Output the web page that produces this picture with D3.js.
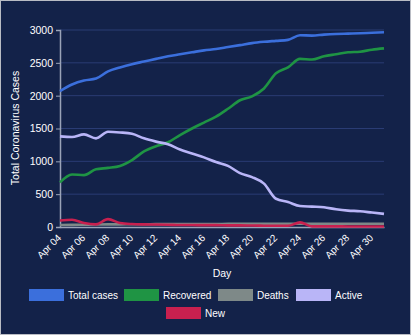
<!DOCTYPE html>
<html>
<head>
<meta charset="utf-8">
<script src="https://cdn.jsdelivr.net/npm/d3@7"></script>
<style>
  html, body { margin: 0; padding: 0; background: #132249; }
  svg { display: block; font-family: "Liberation Sans", Arial, sans-serif; }
</style>
</head>
<body>
<svg id="chart" width="411" height="335"></svg>
<script>
// days Apr 04 .. May 01
var days = ["Apr 04","Apr 05","Apr 06","Apr 07","Apr 08","Apr 09","Apr 10","Apr 11","Apr 12","Apr 13",
            "Apr 14","Apr 15","Apr 16","Apr 17","Apr 18","Apr 19","Apr 20","Apr 21","Apr 22","Apr 23",
            "Apr 24","Apr 25","Apr 26","Apr 27","Apr 28","Apr 29","Apr 30","May 01"];
var tickDays = ["Apr 04","Apr 06","Apr 08","Apr 10","Apr 12","Apr 14","Apr 16","Apr 18",
                "Apr 20","Apr 22","Apr 24","Apr 26","Apr 28","Apr 30"];
var yTicks = [0, 500, 1000, 1500, 2000, 2500, 3000];

var totalCases = [2070,2170,2230,2260,2370,2430,2480,2520,2560,2600,2630,2660,2690,2710,
                  2740,2770,2800,2820,2835,2850,2920,2915,2930,2940,2945,2950,2958,2965];
var recovered  = [680,800,790,880,900,930,1020,1150,1230,1290,1400,1500,1590,1680,
                  1800,1930,1990,2110,2340,2430,2560,2550,2600,2630,2660,2670,2700,2720];
var deaths     = [30,32,35,38,40,40,42,42,44,44,45,45,46,46,47,47,48,48,48,48,49,49,50,50,50,50,50,50];
var active     = [1380,1370,1410,1350,1450,1440,1420,1350,1300,1260,1180,1120,1060,990,
                  930,820,760,660,430,380,320,310,300,270,250,240,220,200];
var newCases   = [100,110,60,40,120,60,45,40,38,35,30,30,28,28,25,25,22,20,18,18,70,10,10,10,8,8,8,8];

var series = [
  {name: "Total cases", values: totalCases, color: "#3b6fdc"},
  {name: "Recovered",   values: recovered,  color: "#1f9444"},
  {name: "Deaths",      values: deaths,     color: "#7e8988"},
  {name: "Active",      values: active,     color: "#b9b5f7"},
  {name: "New",         values: newCases,   color: "#c8204f"}
];

var svg = d3.select("#chart");

// background + thin frame
svg.append("rect").attr("x", 0.5).attr("y", 0.5).attr("width", 410).attr("height", 334)
  .attr("fill", "#132249").attr("stroke", "#b9bcc4").attr("stroke-width", 1);

var x = d3.scalePoint().domain(days).range([60, 384]);
var y = d3.scaleLinear().domain([0, 3000]).range([227, 30]);

// grid
svg.append("g").selectAll("line").data(yTicks.slice(1)).join("line")
  .attr("x1", 60).attr("x2", 384)
  .attr("y1", function(d) { return y(d); }).attr("y2", function(d) { return y(d); })
  .attr("stroke", "#2a3c74").attr("stroke-width", 1);

// y axis
var yAxis = svg.append("g").attr("transform", "translate(60,0)")
  .call(d3.axisLeft(y).tickValues(yTicks).tickFormat(d3.format("d")).tickSize(4).tickPadding(3));
yAxis.select(".domain").attr("stroke", "#9aa3b8").attr("stroke-width", 1.5);
yAxis.selectAll(".tick line").attr("stroke", "#9aa3b8");
yAxis.selectAll("text").attr("fill", "#ffffff").attr("font-size", 10.5);

// x axis, labels slanted
var xAxis = svg.append("g").attr("transform", "translate(0,227)")
  .call(d3.axisBottom(x).tickValues(tickDays).tickSize(0).tickPadding(0));
xAxis.select(".domain").attr("stroke", "#9aa3b8").attr("stroke-width", 1.5);
xAxis.selectAll("text")
  .attr("fill", "#ffffff").attr("font-size", 10)
  .attr("text-anchor", "end")
  .attr("dy", "0.35em")
  .attr("transform", "translate(-1,9) rotate(-45)");

// lines
var line = d3.line()
  .x(function(d, i) { return x(days[i]); })
  .y(function(d) { return y(d); })
  .curve(d3.curveMonotoneX);

svg.append("g").selectAll("path").data(series).join("path")
  .attr("d", function(s) { return line(s.values); })
  .attr("fill", "none")
  .attr("stroke", function(s) { return s.color; })
  .attr("stroke-width", 2.6)
  .attr("stroke-linejoin", "round");

// axis titles
svg.append("text")
  .attr("transform", "translate(19,128) rotate(-90)")
  .attr("text-anchor", "middle")
  .attr("fill", "#ffffff").attr("font-size", 10.5)
  .text("Total Coronavirus Cases");

svg.append("text")
  .attr("x", 222).attr("y", 277)
  .attr("text-anchor", "middle")
  .attr("fill", "#ffffff").attr("font-size", 10.5)
  .text("Day");

// legend
var legendPos = [[29, 289], [124, 289], [218, 289], [296, 289], [166, 307]];
var legend = svg.append("g").selectAll("g").data(series).join("g")
  .attr("transform", function(s, i) { return "translate(" + legendPos[i][0] + "," + legendPos[i][1] + ")"; });
legend.append("rect").attr("width", 35).attr("height", 12)
  .attr("fill", function(s) { return s.color; });
legend.append("text").attr("x", 39).attr("y", 10)
  .attr("fill", "#ffffff").attr("font-size", 10)
  .text(function(s) { return s.name; });
</script>
</body>
</html>
